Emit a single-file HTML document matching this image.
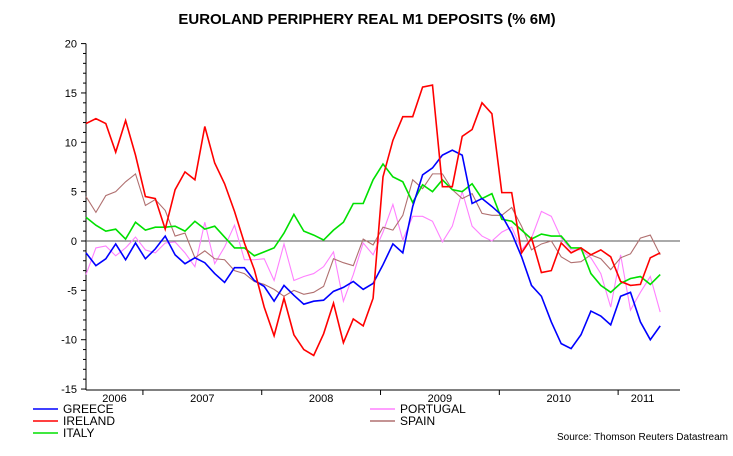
<!DOCTYPE html>
<html><head><meta charset="utf-8"><style>
body{margin:0;background:#fff}
svg{display:block;font-family:"Liberation Sans",Arial,sans-serif}
</style></head><body>
<svg id="chart" width="733" height="456" viewBox="0 0 733 456" xmlns="http://www.w3.org/2000/svg">
<text x="367" y="24" text-anchor="middle" font-size="15" font-weight="bold">EUROLAND PERIPHERY REAL M1 DEPOSITS (% 6M)</text>
<g id="axes"></g>
<g id="series"></g>
<g id="legend"></g>
<text x="728" y="440" text-anchor="end" font-size="10">Source: Thomson Reuters Datastream</text>
</svg>
<script>
const yTicks=[20,15,10,5,0,-5,-10,-15];
const years=["2006","2007","2008","2009","2010","2011"];
const greece=[-1.2,-2.5,-1.8,-0.3,-1.9,-0.2,-1.8,-0.8,0.5,-1.4,-2.3,-1.7,-2.2,-3.3,-4.2,-2.7,-2.7,-4.0,-4.6,-6.1,-4.5,-5.5,-6.4,-6.1,-6.0,-5.1,-4.7,-4.1,-4.9,-4.3,-2.4,-0.3,-1.2,3.5,6.7,7.4,8.7,9.2,8.7,3.8,4.3,3.5,2.6,0.8,-1.6,-4.5,-5.6,-8.2,-10.4,-10.9,-9.5,-7.1,-7.6,-8.5,-5.6,-5.2,-8.2,-10.0,-8.6];
const ireland=[11.9,12.4,11.9,9.0,12.2,8.7,4.5,4.3,1.2,5.2,7.0,6.2,11.6,7.9,5.8,3.0,-0.2,-2.9,-6.7,-9.6,-5.8,-9.5,-11.0,-11.6,-9.4,-6.3,-10.3,-7.9,-8.6,-5.8,6.5,10.2,12.6,12.6,15.6,15.8,5.5,5.5,10.6,11.3,14.0,12.9,4.9,4.9,-1.2,0.3,-3.2,-3.0,-0.2,-1.2,-0.7,-1.4,-0.9,-1.6,-4.1,-4.5,-4.4,-1.7,-1.2];
const italy=[2.4,1.6,1.0,1.2,0.2,1.9,1.1,1.4,1.4,1.5,1.0,2.0,1.2,1.5,0.4,-0.7,-0.7,-1.5,-1.1,-0.7,0.8,2.7,1.0,0.6,0.1,1.1,1.9,3.8,3.8,6.2,7.8,6.5,6.0,3.9,5.7,5.0,6.2,5.2,5.0,5.8,4.3,4.8,2.2,2.0,1.1,0.2,0.7,0.5,0.5,-0.7,-0.7,-3.3,-4.5,-5.2,-4.3,-3.8,-3.6,-4.4,-3.4];
const portugal=[-3.4,-0.7,-0.5,-1.5,-0.7,0.4,-0.9,-1.2,-0.2,-0.1,-1.2,-2.6,1.9,-2.3,-0.6,1.6,-1.9,-1.9,-1.8,-4.0,-0.3,-4.0,-3.6,-3.3,-2.6,-1.1,-6.1,-3.4,-0.2,-1.4,0.9,3.7,0.1,2.5,2.5,2.0,-0.1,1.5,5.0,1.5,0.5,0.0,0.9,1.4,-0.9,0.3,3.0,2.5,0.3,-0.9,-0.9,-1.7,-3.3,-6.7,-1.4,-7.0,-5.2,-3.6,-7.2];
const spain=[4.5,2.9,4.6,5.0,6.0,6.8,3.6,4.2,3.1,0.5,0.8,-1.7,-1.0,-1.8,-1.9,-3.0,-3.3,-4.1,-4.4,-4.9,-5.6,-5.0,-5.4,-5.2,-4.6,-1.8,-2.2,-2.5,0.2,-0.4,1.4,1.1,2.6,6.2,5.3,6.8,6.8,5.2,4.3,4.8,2.8,2.6,2.6,3.4,1.5,-0.9,-0.3,0.0,-1.6,-2.2,-2.1,-1.4,-1.8,-2.9,-1.7,-1.3,0.3,0.6,-1.4];
const NS="http://www.w3.org/2000/svg";
const x0=86,dx=9.9,yZero=241,ky=9.87;
const X=i=>x0+i*dx, Y=v=>yZero-v*ky;
function mk(t,a,p){const e=document.createElementNS(NS,t);for(const k in a)e.setAttribute(k,a[k]);p.appendChild(e);return e;}
const axes=document.getElementById('axes');
let el=mk('line',{x1:x0,y1:Y(20),x2:x0,y2:390,stroke:'#000','stroke-width':1},axes);


el=mk('line',{x1:x0,y1:390,x2:680,y2:390,stroke:'#000','stroke-width':1},axes);


el=mk('line',{x1:x0,y1:Y(0),x2:680,y2:Y(0),stroke:'#555','stroke-width':1},axes);


for(let v=-15;v<=20;v++){const m=v%5===0;el=mk('line',{x1:x0-(m?5:3),y1:Y(v),x2:x0,y2:Y(v),stroke:'#000','stroke-width':1},axes);

}
yTicks.forEach(v=>{el=mk('text',{x:x0-9,y:Y(v)+4,'text-anchor':'end','font-size':11},axes);el.textContent=v;

});
// year boundaries: first boundary at index ~5.75
const yStart=5.75;
years.forEach((yr,k)=>{const b=X(yStart+12*k);
 if(k<5){el=mk('line',{x1:b,y1:390,x2:b,y2:395,stroke:'#000'},axes);
 
 }
 const c=k===0?(x0+X(yStart))/2:(k===5?(X(yStart+48)+675)/2-4:b-dx*6);
 el=mk('text',{x:c,y:402,'text-anchor':'middle','font-size':11},axes);el.textContent=yr;
 
 });
const ser=document.getElementById('series');
const defs=[["greece",greece,"#0000ff"],["ireland",ireland,"#ff0000"],["italy",italy,"#00e000"],["portugal",portugal,"#ff80ff"],["spain",spain,"#b07070"]];
[defs[3],defs[4],defs[2],defs[0],defs[1]].forEach(([n,d,c])=>{
 el=mk('polyline',{points:d.map((v,i)=>X(i)+','+Y(v)).join(' '),fill:'none',stroke:c,'stroke-width':(n==='ireland'||n==='greece'||n==='italy')?1.6:1.1},ser);
 
 });
const lg=document.getElementById('legend');
const L=[["GREECE","#0000ff",33,413],["IRELAND","#ff0000",33,425],["ITALY","#00e000",33,437],["PORTUGAL","#ff80ff",370,413],["SPAIN","#b07070",370,425]];
L.forEach(([t,c,x,y])=>{
 el=mk('line',{x1:x,y1:y-4,x2:x+25,y2:y-4,stroke:c,'stroke-width':1.6},lg);
 
 
 el=mk('text',{x:x+30,y:y,'font-size':12},lg);el.textContent=t;
 
 });
</script>
</body></html>
